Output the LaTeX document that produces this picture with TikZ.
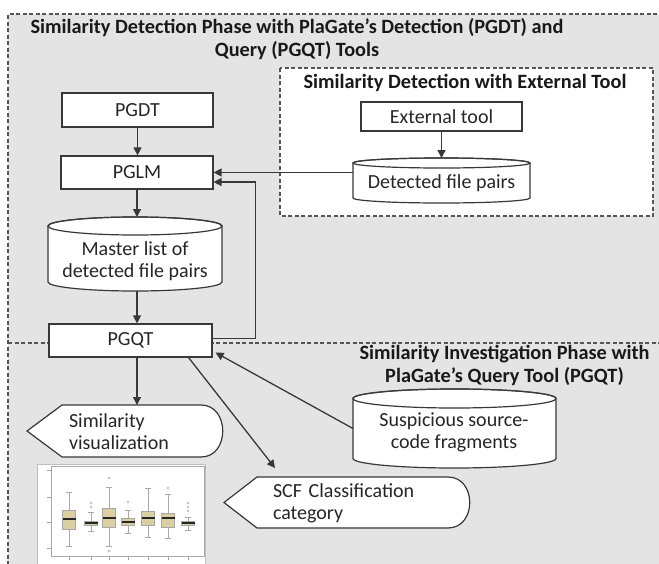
\documentclass[tikz,border=0pt]{standalone}
\usepackage{fontspec}
\setmainfont{Carlito}
\usetikzlibrary{arrows.meta}
\definecolor{bggrey}{HTML}{E4E4E4}
\definecolor{lineclr}{HTML}{383838}
\definecolor{zoneclr}{HTML}{555555}
\definecolor{boxtan}{HTML}{D9CFA3}
\definecolor{plotgrey}{HTML}{A8A8A8}
% cylinder: name, L, R, T, B, ry  (image coordinates, y downwards)
\newcommand\cylnode[6]{%
  \draw[boxline,fill=white] ({#2},{-#4-#6}) -- ({#2},{-#5+#6})
     arc[start angle=180,end angle=360,x radius={(#3-#2)/2},y radius=#6]
     -- ({#3},{-#4-#6})
     arc[start angle=0,end angle=180,x radius={(#3-#2)/2},y radius=#6] -- cycle;
  \draw[boxline] ({(#2+#3)/2},{-#4-#6}) ellipse[x radius={(#3-#2)/2},y radius=#6];
  \node[anchorbox,minimum width={(#3-#2)*1pt},minimum height={(#5-#4)*1pt}] (#1) at ({(#2+#3)/2},{-(#4+#5)/2}) {};
}
% display shape: name, L, R, T, B, left indent
\newcommand\dispnode[6]{%
  \node[anchorbox,minimum width={(#3-#2)*1pt},minimum height={(#5-#4)*1pt}] (#1) at ({(#2+#3)/2},{-(#4+#5)/2}) {};
  \draw[boxline,fill=white] (#1.west) -- ([xshift=#6pt]#1.north west) -- ([xshift=-22pt]#1.north east)
     .. controls ([xshift=7pt]#1.north east) and ([xshift=7pt]#1.south east) .. ([xshift=-22pt]#1.south east)
     -- ([xshift=#6pt]#1.south west) -- cycle;
}
\newcommand\bxp[6]{% x, box top, box bottom, median, whisker top, whisker bottom
  \draw[plotgrey,line width=0.6pt] (#1,-#5) -- (#1,-#2) (#1,-#3) -- (#1,-#6);
  \draw[plotgrey,line width=0.6pt] ({#1-3},-#5) -- ({#1+3},-#5) ({#1-3},-#6) -- ({#1+3},-#6);
  \draw[plotgrey,line width=0.6pt,fill=boxtan] ({#1-6.5},-#2) rectangle ({#1+6.5},-#3);
  \draw[black!85,line width=1.6pt] ({#1-6.5},-#4) -- ({#1+6.5},-#4);
}
\begin{document}
\begin{tikzpicture}[x=1pt,y=1pt,
  boxline/.style={draw=lineclr,line width=1.2pt},
  procbox/.style={boxline,fill=white,inner sep=0},
  anchorbox/.style={inner sep=0,outer sep=0},
  txt/.style={font=\fontsize{20}{22}\selectfont,inner sep=0,text=black!85},
  ttl/.style={font=\bfseries\fontsize{20.3}{23}\selectfont,inner sep=0,text=black!90,align=center},
  arr/.style={draw=lineclr,line width=1.3pt,-{Triangle[length=8pt,width=8pt]}},
  zone/.style={draw=zoneclr,dash pattern=on 4pt off 2.5pt,line width=1.1pt}]
\useasboundingbox (0,0) rectangle (659,-563);
\clip (0,0) rectangle (659,-563);
% zones
\fill[bggrey] (8,-14) rectangle (670,-575);
\draw[zone] (670,-14) -- (8,-14) -- (8,-575);
\draw[zone] (8,-343) -- (670,-343);
\draw[zone,fill=white] (280,-68) rectangle (653,-216);
% titles
\node[ttl] (title1) at (297,-39) {Similarity Detection Phase with PlaGate’s Detection (PGDT) and\\Query (PGQT) Tools};
\node[ttl] (title2) at (465,-83) {Similarity Detection with External Tool};
\node[ttl] (title3) at (504.5,-365.5) {Similarity Investigation Phase with\\PlaGate’s Query Tool (PGQT)};
% process boxes
\node[procbox,txt,minimum width=151pt,minimum height=34pt] (pgdt) at (137.5,-110) {PGDT};
\node[procbox,txt,minimum width=152pt,minimum height=33pt] (pglm) at (137,-172.5) {PGLM};
\node[procbox,txt,minimum width=163pt,minimum height=33pt] (pgqt) at (130.5,-340.5) {PGQT};
\node[procbox,txt,minimum width=161pt,minimum height=29pt] (ext) at (441.5,-116.5) {External tool};
% cylinders
\cylnode{det}{353}{530}{158}{203}{5}
\node[txt] (dettext) at (441.5,-183) {Detected file pairs};
\cylnode{master}{48}{222}{217}{291}{9}
\node[txt,align=center] (mastertext) at (135,-261) {Master list of\\detected file pairs};
\cylnode{susp}{353}{556}{389}{468}{9.5}
\node[txt,align=center] (susptext) at (454,-432.5) {Suspicious source-\\code fragments};
% display shapes
\dispnode{simviz}{27}{223}{405}{457}{35}
\node[txt,text width=112pt,align=left] (simviztext) at (125,-432) {Similarity\\visualization};
\dispnode{scf}{224}{470}{477}{528}{33}
\node[txt,text width=148pt,align=left] (scftext) at (347,-503.5) {SCF Classification\\category};
% connectors
\draw[arr] (pgdt.south) -- (pgdt.south |- pglm.north);
\draw[arr] (pglm.south) -- (pglm.south |- master.north);
\draw[arr] (master.south -| pglm.south) -- (pglm.south |- pgqt.north);
\draw[arr] (ext.south) -- (ext.south |- det.north);
\draw[arr] (det.west |- pglm.east) -- (pglm.east);
\draw[arr] ([yshift=2pt]pgqt.east) -- ++(43,0) |- ([yshift=-9.5pt]pglm.east);
\draw[arr] (pgqt.south -| pglm.south) -- (pglm.south |- simviz.north);
\draw[arr] ([xshift=-24pt]pgqt.south east) -- ([shift={(51pt,9pt)}]scf.north west);
\draw[arr] (susp.west) -- ([shift={(3pt,5pt)}]pgqt.south east);
% box plot picture
\draw[draw=black!25,fill=white,line width=0.8pt] (37,-464) rectangle (205,-570);
\draw[plotgrey,line width=0.5pt] (51,-466) rectangle (204,-556);
\foreach \ty in {470,497,522,548} \draw[plotgrey,line width=0.5pt] (51,-\ty) -- (47,-\ty);
\foreach \tx in {69,91,109,128,148,168,188} \draw[plotgrey,line width=0.5pt] (\tx,-556) -- (\tx,-560);
\bxp{69}{510}{529}{519}{492}{546}
\bxp{91}{521}{525}{523}{512}{531}
\bxp{109}{508}{527}{518}{487}{546}
\bxp{128}{518}{525}{522}{510}{533}
\bxp{148}{511}{525}{518}{488}{537}
\bxp{168}{513}{527}{518}{494}{538}
\bxp{188}{521}{525}{523}{517}{530}
\foreach \ox/\oy in {91/503,91/507,109/478,109/551,128/502,168/488,188/503,188/507,188/511}
  \draw[plotgrey,line width=0.4pt] (\ox,-\oy) circle[radius=1.2];
\end{tikzpicture}
\end{document}
